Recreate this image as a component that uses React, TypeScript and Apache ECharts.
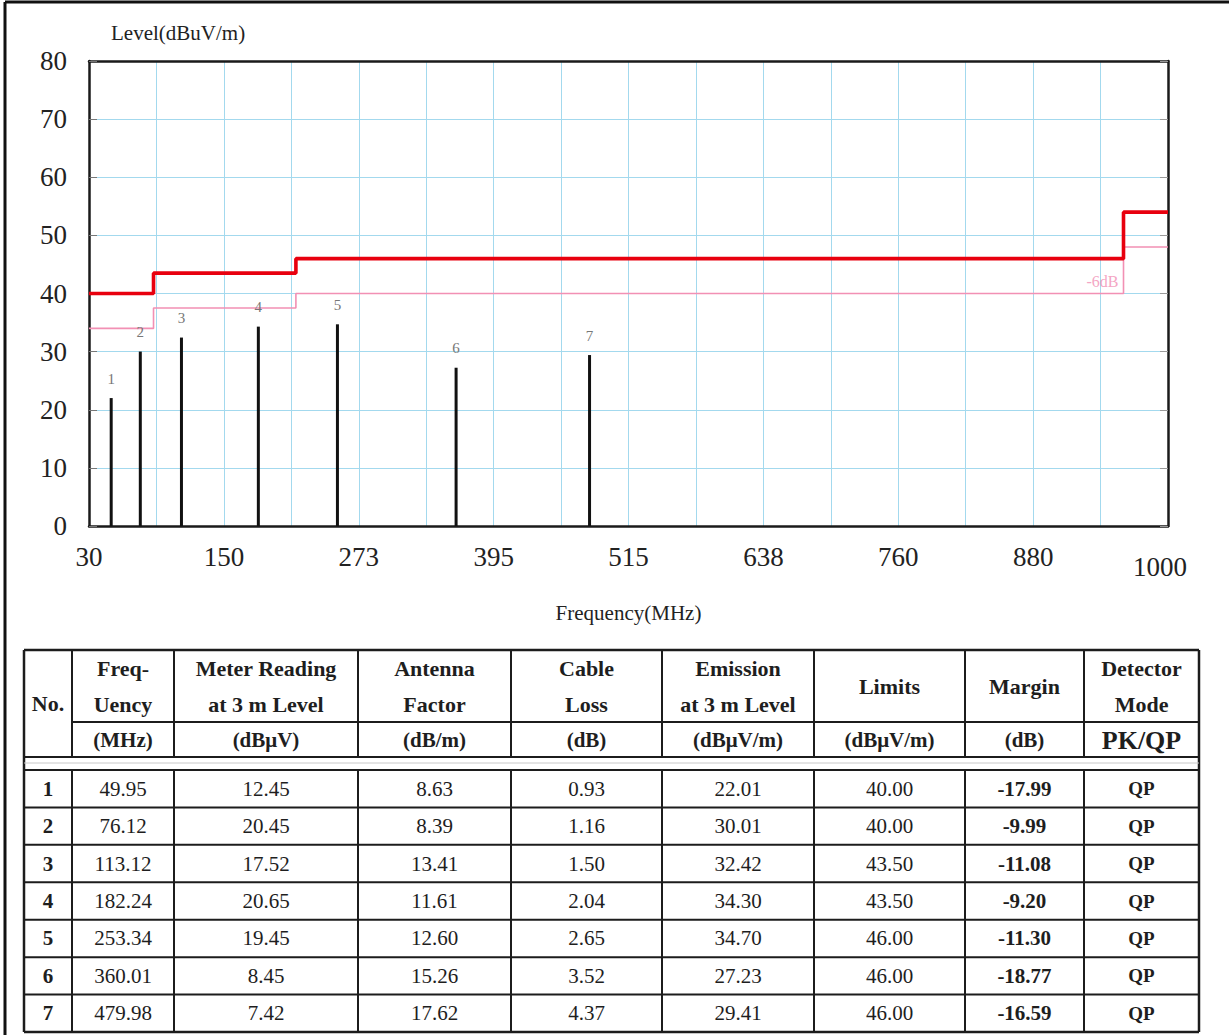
import React, { useEffect, useRef } from "react";
import * as echarts from "echarts";

// ---- data ----
const xTickLabels = ["30", "150", "273", "395", "515", "638", "760", "880", "1000"];
const limitFreqs = [30, 88, 216, 960, 1000];
const limitLevels = [40, 43.5, 46, 54, 54];
const marginLineLevels = [34, 37.5, 40, 48, 48];

const nos = ["1", "2", "3", "4", "5", "6", "7"];
const freqs = [49.95, 76.12, 113.12, 182.24, 253.34, 360.01, 479.98];
const meterReadings = [12.45, 20.45, 17.52, 20.65, 19.45, 8.45, 7.42];
const antennaFactors = [8.63, 8.39, 13.41, 11.61, 12.6, 15.26, 17.62];
const cableLosses = [0.93, 1.16, 1.5, 2.04, 2.65, 3.52, 4.37];
const emissions = [22.01, 30.01, 32.42, 34.3, 34.7, 27.23, 29.41];
const limits = [40.0, 40.0, 43.5, 43.5, 46.0, 46.0, 46.0];
const margins = [-17.99, -9.99, -11.08, -9.2, -11.3, -18.77, -16.59];
const modes = ["QP", "QP", "QP", "QP", "QP", "QP", "QP"];

const headerLines = [
  ["No."],
  ["Freq-", "Uency"],
  ["Meter Reading", "at 3 m Level"],
  ["Antenna", "Factor"],
  ["Cable", "Loss"],
  ["Emission", "at 3 m Level"],
  ["Limits"],
  ["Margin"],
  ["Detector", "Mode"],
];
const unitLabels = ["", "(MHz)", "(dBμV)", "(dB/m)", "(dB)", "(dBμV/m)", "(dBμV/m)", "(dB)", "PK/QP"];

// ---- layout ----
const F0 = 30;
const STEP = 60.625; // MHz per vertical grid division
const xOf = (f: number) => (f - F0) / STEP;
const SERIF = "'Liberation Serif', 'Times New Roman', serif";
const colX = [24, 72, 174, 358, 511, 662, 814, 965, 1084, 1199];
const TABLE_TOP = 650;
const HEAD_MID = 722;
const HEAD_BOT = 757;
const DATA_TOP = 770;
const ROW_H = 37.43;

function buildTable() {
  const els: any[] = [];
  const lineC = "#1c1c1c";
  const L = (x1: number, y1: number, x2: number, y2: number, w = 2, c = lineC) =>
    els.push({ type: "line", shape: { x1, y1, x2, y2 }, style: { stroke: c, lineWidth: w }, silent: true });
  const T = (text: string, x: number, y: number, size: number, bold = false) =>
    els.push({
      type: "text",
      x,
      y,
      silent: true,
      style: {
        text,
        fill: "#1e1e1e",
        font: `${bold ? "bold " : ""}${size}px ${SERIF}`,
        align: "center",
        verticalAlign: "middle",
        textAlign: "center",
        textVerticalAlign: "middle",
      },
    });
  const nRows = nos.length;
  const bottom = DATA_TOP + ROW_H * nRows;
  // outer border
  L(colX[0], TABLE_TOP, colX[9], TABLE_TOP, 2.5);
  L(colX[0], bottom, colX[9], bottom, 2.5);
  L(colX[0], TABLE_TOP, colX[0], bottom, 2.5);
  L(colX[9], TABLE_TOP, colX[9], bottom, 2.5);
  // header lines
  L(colX[1], HEAD_MID, colX[9], HEAD_MID, 2);
  L(colX[0], HEAD_BOT, colX[9], HEAD_BOT, 2);
  L(colX[0], 763, colX[9], 763, 1, "#c8c8c8");
  L(colX[0], DATA_TOP, colX[9], DATA_TOP, 2);
  for (let r = 1; r < nRows; r++) L(colX[0], DATA_TOP + ROW_H * r, colX[9], DATA_TOP + ROW_H * r, 2);
  for (let c = 1; c < 9; c++) {
    L(colX[c], TABLE_TOP, colX[c], HEAD_BOT, 2);
    L(colX[c], DATA_TOP, colX[c], bottom, 2);
  }
  // header text
  for (let c = 0; c < 9; c++) {
    const cx = (colX[c] + colX[c + 1]) / 2;
    const lines = headerLines[c];
    if (c === 0) {
      T(lines[0], cx, (TABLE_TOP + HEAD_BOT) / 2, 22, true);
      continue;
    }
    if (lines.length === 1) T(lines[0], cx, (TABLE_TOP + HEAD_MID) / 2, 22, true);
    else {
      T(lines[0], cx, 668, 22, true);
      T(lines[1], cx, 704, 22, true);
    }
    T(unitLabels[c], cx, 740, c === 8 ? 26 : 21, true);
  }
  // data
  for (let r = 0; r < nRows; r++) {
    const cy = DATA_TOP + ROW_H * (r + 0.5);
    const vals = [
      nos[r],
      freqs[r].toFixed(2),
      meterReadings[r].toFixed(2),
      antennaFactors[r].toFixed(2),
      cableLosses[r].toFixed(2),
      emissions[r].toFixed(2),
      limits[r].toFixed(2),
      margins[r].toFixed(2),
      modes[r],
    ];
    for (let c = 0; c < 9; c++) {
      const cx = (colX[c] + colX[c + 1]) / 2;
      const bold = c === 0 || c === 7 || c === 8;
      T(vals[c], cx, cy, c === 8 ? 19 : 21, bold);
    }
  }
  // page frame
  L(5, 2, 1229, 2, 3, "#111");
  L(5, 2, 5, 1035, 3, "#111");
  return els;
}

export default function App() {
  const ref = useRef<HTMLDivElement>(null);
  useEffect(() => {
    if (!ref.current) return;
    const chart = echarts.init(ref.current, null, { renderer: "svg" });
    const gridColor = "#a3d9ee";
    const axisLabelStyle = { fontFamily: SERIF, fontSize: 27, color: "#222" };
    chart.setOption({
      animation: false,
      backgroundColor: "#ffffff",
      grid: { left: 89, top: 61, width: 1079, height: 465, containLabel: false },
      xAxis: [
        {
          type: "value",
          min: 0,
          max: 16,
          interval: 1,
          name: "Frequency(MHz)",
          nameLocation: "middle",
          nameGap: 76,
          nameTextStyle: { fontFamily: SERIF, fontSize: 21, color: "#222", verticalAlign: "top" },
          axisLine: { show: true, onZero: false, lineStyle: { color: "#1a1a1a", width: 2.5 } },
          axisTick: { show: false },
          splitLine: { show: true, lineStyle: { color: gridColor, width: 1 } },
          axisLabel: {
            ...axisLabelStyle,
            margin: 17,
            showMinLabel: true,
            showMaxLabel: true,
            formatter: (v: number) => {
              if (v % 2 !== 0) return "";
              const t = xTickLabels[v / 2];
              return v === 16 ? `{low|${t}}` : t;
            },
            rich: { low: { ...axisLabelStyle, padding: [10, 16, 0, 0] } },
          },
        },
        {
          type: "value",
          position: "top",
          min: 0,
          max: 16,
          axisLine: { show: true, onZero: false, lineStyle: { color: "#1a1a1a", width: 2.5 } },
          axisTick: { show: false },
          axisLabel: { show: false },
          splitLine: { show: false },
        },
      ],
      yAxis: [
        {
          type: "value",
          min: 0,
          max: 80,
          interval: 10,
          name: "Level(dBuV/m)",
          nameLocation: "end",
          nameGap: 18,
          nameTextStyle: { fontFamily: SERIF, fontSize: 21, color: "#222", align: "left", padding: [0, 0, 0, 22] },
          axisLine: { show: true, onZero: false, lineStyle: { color: "#1a1a1a", width: 2.5 } },
          axisTick: { show: true, inside: true, length: 8, lineStyle: { color: "#777", width: 1 } },
          splitLine: { show: true, lineStyle: { color: gridColor, width: 1 } },
          axisLabel: { ...axisLabelStyle, margin: 22 },
        },
        {
          type: "value",
          position: "right",
          min: 0,
          max: 80,
          interval: 10,
          axisLine: { show: true, onZero: false, lineStyle: { color: "#1a1a1a", width: 2.5 } },
          axisTick: { show: true, inside: true, length: 8, lineStyle: { color: "#999", width: 1 } },
          axisLabel: { show: false },
          splitLine: { show: false },
        },
      ],
      series: [
        {
          name: "-6dB",
          type: "line",
          step: "end",
          symbol: "none",
          z: 3,
          lineStyle: { color: "#f290b4", width: 1.6 },
          data: limitFreqs.map((f, i) => [xOf(f), marginLineLevels[i]]),
          markPoint: {
            symbol: "rect",
            symbolSize: 0.1,
            itemStyle: { color: "transparent" },
            label: {
              show: true,
              formatter: "-6dB",
              position: "left",
              distance: 5,
              offset: [0, -12],
              color: "#f4a6c4",
              fontFamily: SERIF,
              fontSize: 16,
            },
            data: [{ coord: [xOf(limitFreqs[3]), marginLineLevels[2]] }],
          },
        },
        {
          name: "Limit",
          type: "line",
          step: "end",
          symbol: "none",
          z: 4,
          lineStyle: { color: "#e8000e", width: 3.6 },
          data: limitFreqs.map((f, i) => [xOf(f), limitLevels[i]]),
        },
        {
          name: "Peaks",
          type: "bar",
          barWidth: 3,
          z: 5,
          itemStyle: { color: "#111" },
          label: {
            show: true,
            position: "top",
            distance: 12,
            formatter: (p: any) => nos[p.dataIndex],
            color: "#777",
            fontFamily: SERIF,
            fontSize: 15,
          },
          data: freqs.map((f, i) => [xOf(f), emissions[i]]),
        },
      ],
      graphic: { elements: buildTable() },
    });
    return () => chart.dispose();
  }, []);
  return (
    <div
      ref={ref}
      style={{ position: "absolute", left: 0, top: 0, width: 1229, height: 1035, background: "#fff" }}
    />
  );
}
